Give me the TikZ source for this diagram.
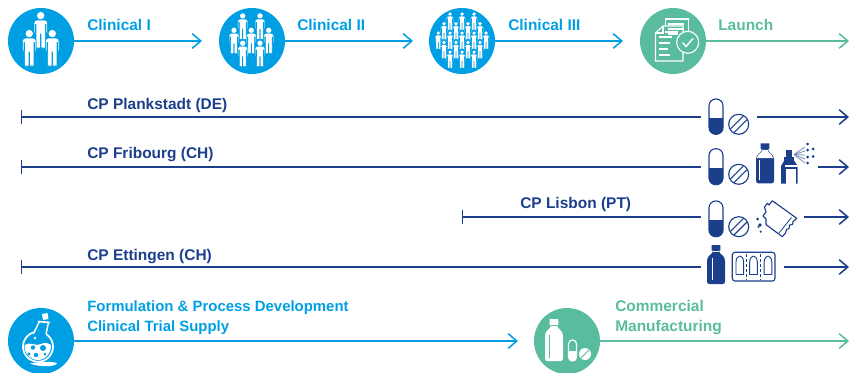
\documentclass[tikz,border=0pt]{standalone}
\usepackage{fontspec}
\setmainfont{Liberation Sans}
\usetikzlibrary{arrows.meta}
\definecolor{cpblue}{HTML}{009FE3}
\definecolor{cpgreen}{HTML}{5ABC9F}
\definecolor{cpnavy}{HTML}{1B3F8B}
\tikzset{
  x=.75pt,y=-.75pt,
  disc/.style={circle,minimum size=49.5pt,inner sep=0pt,fill=#1},
  lab/.style={anchor=base west,inner sep=0pt,font=\bfseries\fontsize{11.6pt}{13pt}\selectfont,text=#1},
  labs/.style={lab=#1,font=\bfseries\fontsize{11.2pt}{13pt}\selectfont},
  arr/.style={draw=#1,line width=1.15pt,-{Straight Barb[length=6.5pt,width=11pt,line width=1.15pt]}},
  plain/.style={draw=#1,line width=1.15pt},
  person/.pic={
    \fill[white] (0,3.6) circle[radius=3.7];
    \path[fill=white,draw=cpblue,line width=\pgfkeysvalueof{/tikz/gapw},line join=round] (-3.5,8) -- (3.5,8) .. controls (5.6,8) and (6.7,9.4) .. (6.7,11) -- (6.7,21) -- (5.4,21) -- (5.4,12.5) -- (4.6,12.5) -- (4.6,36) -- (.4,36) -- (.4,22) -- (-.4,22) -- (-.4,36) -- (-4.6,36) -- (-4.6,12.5) -- (-5.4,12.5) -- (-5.4,21) -- (-6.7,21) -- (-6.7,11) .. controls (-6.7,9.4) and (-5.6,8) .. (-3.5,8) -- cycle;
  },
  gapw/.initial=.4pt
}
\newcommand\capicon[6]{% x top w h split colour
  \draw[#6,line width=.85pt,rounded corners=#3*.36pt] ({#1-#3/2},#2) rectangle ({#1+#3/2},{#2+#4});
  \begin{scope}
    \clip ({#1-#3/2-1},#5) rectangle ({#1+#3/2+1},{#2+#4+1});
    \fill[#6,rounded corners=#3*.36pt] ({#1-#3/2},#2) rectangle ({#1+#3/2},{#2+#4});
  \end{scope}
}
\newcommand\tabicon[3]{% x y colour
  \draw[#3,line width=.85pt] (#1,#2) circle[radius=10];
  \draw[#3,line width=.85pt] ({#1-8.2},{#2+4.6}) -- ({#1+4.6},{#2-8.2});
  \draw[#3,line width=.85pt] ({#1-4.6},{#2+8.2}) -- ({#1+8.2},{#2-4.6});
}
\newcommand\bottleshape{(-4.3,0) -- (4.3,0) -- (4.3,5.5) -- (3.4,5.5) -- (3.4,7) .. controls (3.4,9.5) and (9,10.5) .. (9,16) -- (9,37.5) .. controls (9,39.2) and (8,40) .. (6.8,40) -- (-6.8,40) .. controls (-8,40) and (-9,39.2) .. (-9,37.5) -- (-9,16) .. controls (-9,10.5) and (-3.4,9.5) .. (-3.4,7) -- (-3.4,5.5) -- (-4.3,5.5) -- cycle}
\begin{document}
\begin{tikzpicture}
\useasboundingbox (0,0) rectangle (849,372);
\clip (0,0) rectangle (849,372);
% discs
\node[disc=cpblue] (c1) at (41,41) {};
\node[disc=cpblue] (c2) at (252,41) {};
\node[disc=cpblue] (c3) at (462,41) {};
\node[disc=cpgreen] (c4) at (673,41) {};
\node[disc=cpblue] (c5) at (41,341) {};
\node[disc=cpgreen] (c6) at (567,341) {};
% free ends
\coordinate (e1) at (202,41);
\coordinate (e2) at (413,41);
\coordinate (e3) at (623,41);
\coordinate (e4) at (849,41);
\coordinate (e5) at (518,341);
\coordinate (e6) at (849,341);
\foreach \n/\y/\xs/\xa/\xb in {1/117/21/701/757, 2/167/21/701/818, 3/217/462/701/804, 4/267/21/701/784}{
  \coordinate (s\n) at (\xs,\y);
  \coordinate (a\n) at (\xa,\y);
  \coordinate (b\n) at (\xb,\y);
  \coordinate (t\n) at (849,\y);
}
% connectors
\draw[arr=cpblue] (c1) -- (e1);
\draw[arr=cpblue] (c2) -- (e2);
\draw[arr=cpblue] (c3) -- (e3);
\draw[arr=cpgreen] (c4) -- (e4);
\draw[arr=cpblue] (c5) -- (e5);
\draw[arr=cpgreen] (c6) -- (e6);
\foreach \n in {1,2,3,4}{
  \draw[{Bar[width=10pt,line width=1pt]}-,plain=cpnavy] (s\n) -- (a\n);
  \draw[arr=cpnavy] (b\n) -- (t\n);
}
% labels
\node[lab=cpblue] (l1) at (87,30) {Clinical I};
\node[lab=cpblue] (l2) at (297,30) {Clinical II};
\node[lab=cpblue] (l3) at (508,30) {Clinical III};
\node[lab=cpgreen] (l4) at (718,30) {Launch};
\node[lab=cpnavy] (p1) at (87,109) {CP Plankstadt (DE)};
\node[lab=cpnavy] (p2) at (87,158) {CP Fribourg (CH)};
\node[lab=cpnavy] (p3) at (520,208) {CP Lisbon (PT)};
\node[lab=cpnavy] (p4) at (87,260) {CP Ettingen (CH)};
\node[labs=cpblue] (f1) at (87,311) {Formulation \& Process Development};
\node[labs=cpblue] (f2) at (87,331) {Clinical Trial Supply};
\node[lab=cpgreen] (g1) at (615,311) {Commercial};
\node[lab=cpgreen] (g2) at (615,331) {Manufacturing};
% people I
\pic at (40.7,12) {person};
\pic at (29.3,30) {person};
\pic at (52.3,30) {person};
% people II
\foreach \x/\y in {242.7/13.3,260/13.3,234/27.7,251.3/27.7,268.7/27.7,242.7/40.7,260/40.7}
  \pic[scale=.72,gapw=.3pt] at (\x,\y) {person};
% people III
\foreach \x/\y in {450/12.3,462/12.3,474/12.3,
  444/22,456/22,468/22,480/22,
  438.3/31.3,450/31.3,462/31.3,474/31.3,486/31.3,
  444/40.7,456/40.7,468/40.7,480/40.7,
  450/50.3,462/50.3,474/50.3}
  \pic[scale=.49,gapw=.22pt] at (\x,\y) {person};
% launch document
\draw[white,line width=.85pt,fill=cpgreen] (665.7,19) rectangle (688.3,48);
\draw[white,line width=.85pt,fill=cpgreen] (663,26) -- (683,26) -- (683,61) -- (655.5,61) -- (655.5,33) -- cycle;
\draw[white,line width=.85pt] (663,26) -- (663,33) -- (655.5,33);
\foreach \y/\a/\b in {24/668/684,29/668/684,34/668/678}
  \draw[white,line width=.85pt] (\a,\y) -- (\b,\y);
\foreach \y/\a/\b in {32/665/678,37/659/672,43/659/670,49/659/668,55/659/670}
  \draw[white,line width=.85pt] (\a,\y) -- (\b,\y);
\draw[white,line width=.85pt,fill=cpgreen] (687.7,42.3) circle[radius=11];
\draw[white,line width=1.1pt] (682.5,42.5) -- (686,46.5) -- (693,38.5);
% row 1
\capicon{716}{99}{14}{35.3}{118}{cpnavy}
\tabicon{738.7}{124.3}{cpnavy}
% row 2
\capicon{716}{148.7}{14}{36}{168}{cpnavy}
\tabicon{738.7}{174.3}{cpnavy}
\begin{scope}[shift={(765,143.3)}]
  \fill[cpnavy] \bottleshape;
  \fill[white] (-2.6,6.6) -- (2.6,6.6) .. controls (3,10) and (8,11) .. (8,14.8) -- (-8,14.8) .. controls (-8,11) and (-3,10) .. (-2.6,6.6) -- cycle;
  \draw[white,line width=.4pt] (-6,17) -- (-6,37);
\end{scope}
% spray can
\fill[cpnavy] (786,150) rectangle (792,157);
\fill[cpnavy] (784,157) rectangle (794,161);
\fill[cpnavy] (781,166) -- (784,161) -- (794.5,161) -- (797.7,166) -- (797.7,183.5) -- (781,183.5) -- cycle;
\fill[white] (784.5,165) rectangle (797.7,167);
\fill[white] (786,169) rectangle (795.5,183.5);
\foreach \ey in {147,151,155,159,163}
  \draw[cpnavy!60,line width=.6pt] (794,154.5) -- (805,\ey);
\foreach \x/\y in {807.5/144,813/149,807.5/150,813/156.5,807.5/157,807.5/163}
  \fill[cpnavy] (\x,\y) circle[radius=1.5];
% row 3
\capicon{716}{201}{14}{35.7}{220}{cpnavy}
\tabicon{738.7}{226.7}{cpnavy}
\draw[cpnavy,line width=.85pt,line join=round] (767.3,203.3) -- (769,205) -- (772.3,200.7) -- (796.7,218.3) -- (795,220) -- (793,221.5) -- (792.5,224.5) -- (789.5,225) -- (789,228.5) -- (786.5,229.5) -- (785.5,233) -- (782.3,236.7) -- (766,224.5) -- (766,219) -- (763,216) -- (766,212) -- (764.5,207) -- cycle;
\draw[cpnavy,line width=.6pt] (791.5,217.5) -- (779,233);
\foreach \x/\y/\r in {757.7/219/1.5,760/225/1.9,758.5/226.8/1.2,760.7/231.7/1.2}
  \fill[cpnavy] (\x,\y) circle[radius=\r];
% row 4
\begin{scope}[shift={(716,245)},yscale=.975]
  \fill[cpnavy] \bottleshape;
  \draw[white,line width=.4pt] (-3.4,6.3) -- (3.4,6.3);
  \draw[white,line width=.6pt] (-3.5,13) -- (-3.5,36);
\end{scope}
\draw[cpnavy,line width=.85pt,rounded corners=2pt] (732.3,252.3) rectangle (775,281);
\foreach \x in {739.8,753.5,768}{
  \draw[cpnavy,line width=.7pt,line join=round] ({\x-3.8},274.5) -- ({\x-3.8},262) .. controls ({\x-3.8},258) and ({\x-1.5},256) .. (\x,256) .. controls ({\x+1.5},256) and ({\x+3.8},258) .. ({\x+3.8},262) -- ({\x+3.8},274.5) -- cycle;
}
\foreach \x in {746.7,760.8}
  \draw[cpnavy,line width=.7pt,dash pattern=on 2.4pt off 1.4pt] (\x,254) -- (\x,280);
% flask
\draw[white,line width=1.3pt] (38,346.7) circle[radius=15];
\fill[white] (24.5,345) .. controls (30,341) and (36,347) .. (41,344) .. controls (45,342) and (48,343) .. (51,345) .. controls (51.5,352) and (46,360) .. (38,360) .. controls (30,360) and (24,353) .. (24.5,345) -- cycle;
\foreach \x/\y/\r in {33/347.5/2.2,43/348/3,29/354/1.7,36/355/2.2,45/354/1.5}
  \fill[cpblue] (\x,\y) circle[radius=\r];
\fill[white] (35,338) circle[radius=1.3];
\fill[white] (39.5,333) circle[radius=1.2];
\fill[cpblue] (34,331) rectangle (46,336);
\draw[white,line width=1.1pt] (33.5,333.5) -- (39.3,321.7);
\draw[white,line width=1.1pt] (46,334) -- (48.5,322.5);
\draw[white,line width=1.3pt,line cap=round] (38.5,321.5) -- (49.5,322.5);
\fill[white] (42,314) -- (47.5,313) -- (48.5,319) -- (43,320) -- cycle;
\fill[white] (30,363.5) .. controls (38,362) and (50,361) .. (57,363) .. controls (56,367) and (40,367.5) .. (30,363.5) -- cycle;
% commercial icon
\begin{scope}[shift={(554,319)},yscale=1.05]
  \fill[white] \bottleshape;
  \draw[cpgreen,line width=.4pt] (-3.4,6.3) -- (3.4,6.3);
  \draw[cpgreen,line width=.6pt] (-4.5,15) -- (-4.5,37);
\end{scope}
\capicon{572.5}{340}{8}{21}{351}{white}
\fill[white] (585,354) circle[radius=6];
\draw[cpgreen,line width=.7pt] (581,358) -- (589,350);
\end{tikzpicture}
\end{document}
